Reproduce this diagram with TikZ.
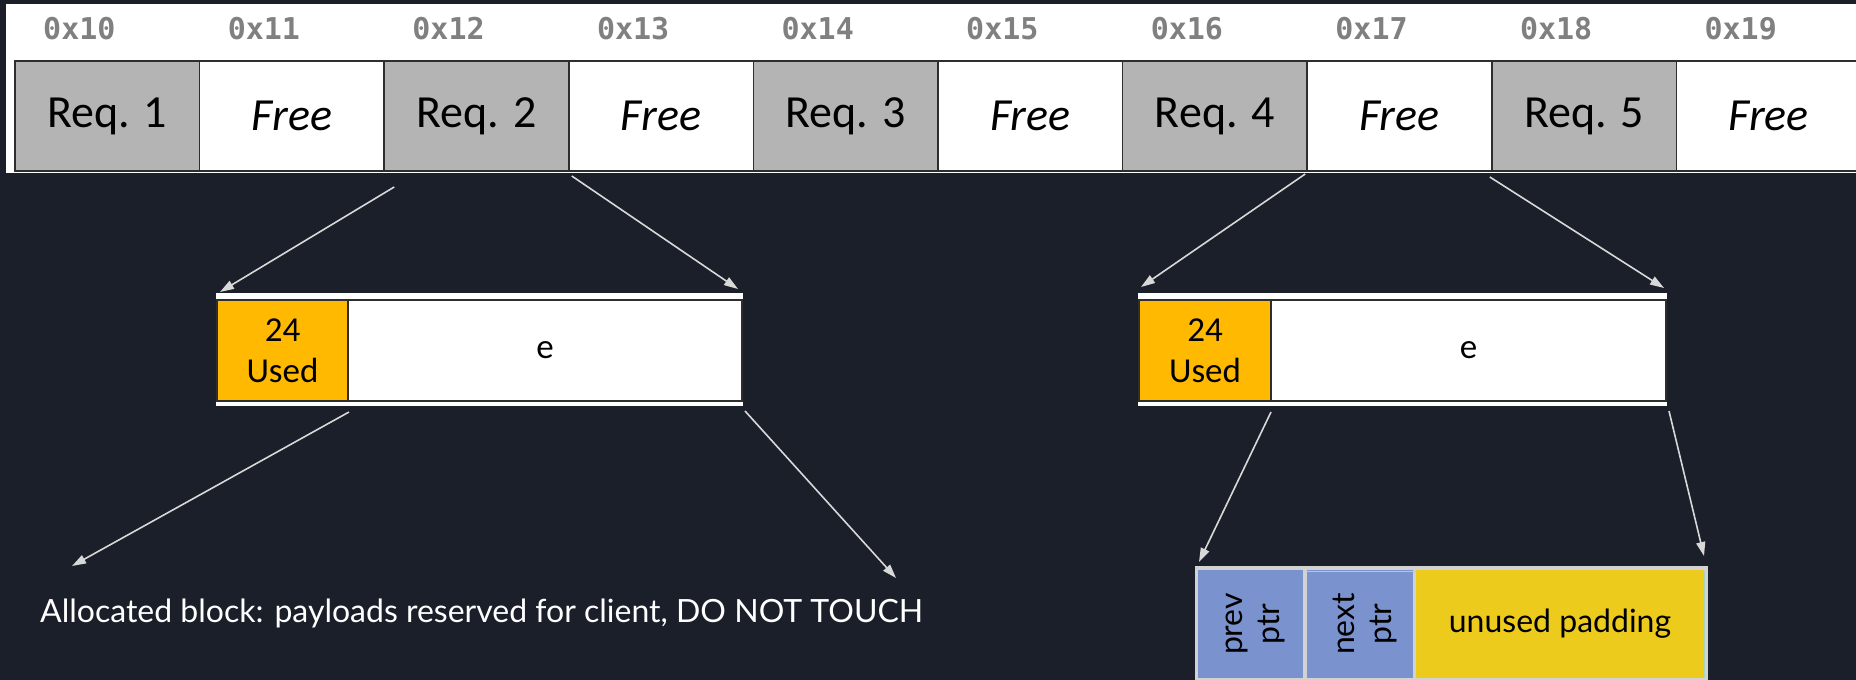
\documentclass[tikz,border=0pt]{standalone}
\usepackage{fontspec}
\usetikzlibrary{arrows.meta}
\newfontfamily\carlito{Carlito}
\newfontfamily\latofont{Lato}
\newfontfamily\monofont{DejaVu Sans Mono}

\definecolor{bg}{HTML}{1B1F2A}
\definecolor{reqgray}{HTML}{B4B4B4}
\definecolor{addrgray}{HTML}{808080}
\definecolor{cellline}{HTML}{2E2E2E}
\definecolor{hdrorange}{HTML}{FFB900}
\definecolor{ptrblue}{HTML}{7A93CE}
\definecolor{padyellow}{HTML}{EDCB1C}
\definecolor{framegray}{HTML}{D2D2D2}
\definecolor{arrowc}{HTML}{D8D8D8}
\definecolor{tealedge}{HTML}{A9D3C1}

\tikzset{
  memcell/.style={draw=cellline, line width=1.5pt, anchor=north west,
    minimum width=184.6pt, minimum height=110pt, inner sep=0pt, outer sep=0pt,
    font=\carlito\fontsize{46}{50}\selectfont},
  reqcell/.style={memcell, fill=reqgray},
  freecell/.style={memcell, fill=white, font=\carlito\itshape\fontsize{46}{50}\selectfont},
  addr/.style={anchor=base west, inner sep=0pt, text=addrgray,
    font=\monofont\bfseries\fontsize{30}{34}\selectfont},
  band/.style={fill=white, anchor=north west, inner sep=0pt, outer sep=0pt, minimum height=113pt},
  blkcell/.style={draw=cellline, line width=1.2pt, anchor=north west, inner sep=0pt, outer sep=0pt,
    minimum height=101pt, align=center, font=\carlito\fontsize{35}{41}\selectfont},
  ptrcell/.style={fill=ptrblue, anchor=north west, inner sep=0pt, outer sep=0pt, minimum height=108pt},
  ptrtext/.style={rotate=90, align=center, inner sep=0pt, font=\latofont\fontsize{32}{37}\selectfont},
  arr/.style={draw=arrowc, line width=1.6pt, -{Triangle[length=14pt,width=9pt]}},
}

\begin{document}
\begin{tikzpicture}[x=1pt,y=-1pt]
\useasboundingbox (0,0) rectangle (1856,680);
\begin{scope}
\clip (0,0) rectangle (1856,680);
\fill[bg] (0,0) rectangle (1856,680);

% top strip: addresses and memory cells
\fill[white] (6,4) rectangle (1856,173);
\foreach \i/\t/\k in {0/Req. 1/reqcell, 1/Free/freecell, 2/Req. 2/reqcell, 3/Free/freecell,
                      4/Req. 3/reqcell, 5/Free/freecell, 6/Req. 4/reqcell, 7/Free/freecell,
                      8/Req. 5/reqcell, 9/Free/freecell} {
  \node[\k] (c\i) at ({15+184.6*\i},61) {\t};
  \node[addr] (a\i) at ({43+184.6*\i},39) {0x1\i};
}

% allocated block (left)
\node[band, minimum width=527pt] (bandA) at (216,293) {};
\node[blkcell, fill=hdrorange, minimum width=131pt] (oA) at (217,300) {24\\Used};
\node[blkcell, fill=white, minimum width=394pt] (wA) at (oA.north east) {e};

% free block (right)
\node[band, minimum width=529pt] (bandB) at (1138,293) {};
\node[blkcell, fill=hdrorange, minimum width=132pt] (oB) at (1139,300) {24\\Used};
\node[blkcell, fill=white, minimum width=395pt] (wB) at (oB.north east) {e};

% free block contents
\node[fill=framegray, anchor=north west, inner sep=0pt, outer sep=0pt,
      minimum width=513pt, minimum height=116pt] (fr) at (1195,566) {};
\node[ptrcell, minimum width=105pt] (prev) at (1198,570) {};
\node[ptrcell, minimum width=106pt] (next) at (1307,570) {};
\node[fill=padyellow, anchor=north west, inner sep=0pt, outer sep=0pt,
      minimum width=288pt, minimum height=108pt,
      font=\latofont\fontsize{32}{38}\selectfont] (pad) at (1416,570) {unused padding};
\draw[tealedge, line width=1pt] ([yshift=-1.5]next.north west) -- ([yshift=-1.5]pad.north east)
  -- (pad.south east);
\node[ptrtext] (prevt) at ([xshift=5]prev.center) {prev\\ptr};
\node[ptrtext] (nextt) at ([xshift=5]next.center) {next\\ptr};

% caption
\node[anchor=base west, inner sep=0pt, text=white,
      font=\latofont\fontsize{32}{38}\selectfont] (note) at (40,622)
  {Allocated block: payloads reserved for client, DO NOT TOUCH};

% arrow end points
\coordinate (s1) at ([shift={(10,16)}]c2.south west);
\coordinate (e1) at ([shift={(4,-1)}]bandA.north west);
\coordinate (s2) at ([shift={(3,5)}]c3.south west);
\coordinate (e2) at ([shift={(-5,-4)}]bandA.north east);
\coordinate (s3) at ([shift={(1,11)}]oA.south east);
\coordinate (e3) at ([shift={(32,-56)}]note.base west);
\coordinate (s4) at ([shift={(3,10)}]wA.south east);
\coordinate (e4) at (896,578);
\coordinate (s5) at ([shift={(-2,3)}]c7.south west);
\coordinate (e5) at ([shift={(3,-6)}]bandB.north west);
\coordinate (s6) at ([shift={(-2,6)}]c8.south west);
\coordinate (e6) at ([shift={(-3,-5)}]bandB.north east);
\coordinate (s7) at ([shift={(0,11)}]oB.south east);
\coordinate (e7) at ([shift={(4,-4)}]fr.north west);
\coordinate (s8) at ([shift={(3,10)}]wB.south east);
\coordinate (e8) at ([shift={(-4,-10)}]fr.north east);

\foreach \n in {1,...,8} { \draw[arr] (s\n) -- (e\n); }
\end{scope}
\end{tikzpicture}
\end{document}
